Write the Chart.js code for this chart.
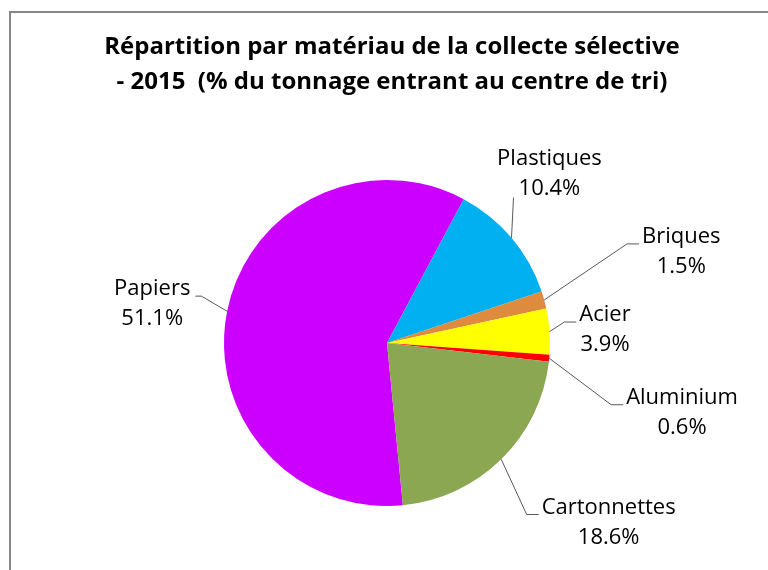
<!DOCTYPE html>
<html>
<head>
<meta charset="utf-8">
<script src="https://cdn.jsdelivr.net/npm/chart.js@4"></script>
<style>
  html, body { margin: 0; padding: 0; background: #fff; }
  #wrap { width: 768px; height: 570px; }
</style>
</head>
<body>
<div id="wrap"><canvas id="chart" width="768" height="570"></canvas></div>
<script>
// data
const materials = ['Papiers', 'Plastiques', 'Briques', 'Acier', 'Aluminium', 'Cartonnettes'];
const shares = [51.1, 10.4, 1.5, 3.9, 0.6, 18.6];
const sliceColors = ['#cc00ff', '#00b0f0', '#de8a3f', '#ffff00', '#ff0000', '#8ba752'];
const titleLines = ['Répartition par matériau de la collecte sélective', '- 2015  (% du tonnage entrant au centre de tri)'];

// where each label sits: angle (deg, clockwise from top) and distance in pie radii
const labelPos = [
  { angle: 279.4, dist: 1.46 },
  { angle: 43.8, dist: 1.44 },
  { angle: 72.8, dist: 1.89 },
  { angle: 86.6, dist: 1.34 },
  { angle: 103.3, dist: 1.86 },
  { angle: 129, dist: 1.75 },
];

const FONT = '"Open Sans", sans-serif';

// frame + title drawn on the canvas
const frameTitle = {
  id: 'frameTitle',
  beforeDraw(chart) {
    const ctx = chart.ctx;
    ctx.save();
    ctx.strokeStyle = '#868686';
    ctx.lineWidth = 2;
    ctx.beginPath();
    ctx.moveTo(10, chart.height + 5);
    ctx.lineTo(10, 12);
    ctx.lineTo(chart.width + 5, 12);
    ctx.stroke();
    ctx.fillStyle = '#000';
    ctx.font = 'bold 24px ' + FONT;
    ctx.textAlign = 'center';
    ctx.textBaseline = 'alphabetic';
    ctx.fillText(titleLines[0], 392, 54);
    ctx.fillText(titleLines[1], 392, 89);
    ctx.restore();
  }
};

// outside labels with leader lines, placed from the arc geometry
const pieLabels = {
  id: 'pieLabels',
  afterDatasetsDraw(chart) {
    const ctx = chart.ctx;
    const arcs = chart.getDatasetMeta(0).data;
    ctx.save();
    ctx.font = '22px ' + FONT;
    ctx.textAlign = 'center';
    ctx.textBaseline = 'middle';
    arcs.forEach((arc, i) => {
      const r = arc.outerRadius;
      const mid = (arc.startAngle + arc.endAngle) / 2;
      const ex = arc.x + Math.cos(mid) * r;
      const ey = arc.y + Math.sin(mid) * r;
      const a = labelPos[i].angle * Math.PI / 180;
      const cx = arc.x + Math.sin(a) * r * labelPos[i].dist;
      const cy = arc.y - Math.cos(a) * r * labelPos[i].dist;
      const l1 = materials[i];
      const l2 = shares[i].toFixed(1) + '%';
      const w = Math.max(ctx.measureText(l1).width, ctx.measureText(l2).width);
      const left = cx - w / 2, right = cx + w / 2;

      ctx.strokeStyle = '#595959';
      ctx.lineWidth = 1;
      ctx.beginPath();
      ctx.moveTo(ex, ey);
      if (ex > left && ex < right) {
        ctx.lineTo(ex + 2, ey < cy ? cy - 26 : cy + 24);
      } else if (left > ex) {
        ctx.lineTo(left - 15, cy - 8);
        ctx.lineTo(left - 3, cy - 8);
      } else {
        ctx.lineTo(right + 11, cy - 8);
        ctx.lineTo(right + 5, cy - 8);
      }
      ctx.stroke();

      ctx.fillStyle = '#000';
      ctx.fillText(l1, cx, cy - 15);
      ctx.fillText(l2, cx, cy + 15);
    });
    ctx.restore();
  }
};

new Chart(document.getElementById('chart'), {
  type: 'pie',
  data: {
    labels: materials,
    datasets: [{
      data: shares,
      backgroundColor: sliceColors,
      borderWidth: 0,
    }]
  },
  options: {
    responsive: false,
    animation: false,
    rotation: 174.4,
    layout: { padding: { top: 180, bottom: 64, left: 224, right: 218 } },
    plugins: {
      legend: { display: false },
      tooltip: { enabled: false },
    },
  },
  plugins: [frameTitle, pieLabels],
});
</script>
</body>
</html>
